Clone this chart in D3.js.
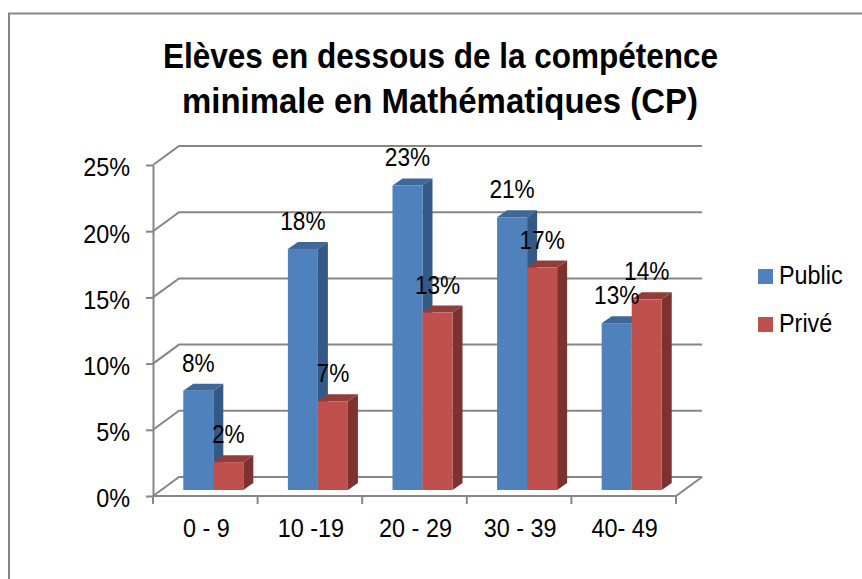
<!DOCTYPE html>
<html>
<head>
<meta charset="utf-8">
<style>
  html, body { margin: 0; padding: 0; background: #fff; }
  svg { display: block; }
  text { font-family: "Liberation Sans", Arial, sans-serif; fill: #000; }
</style>
<script src="https://cdn.jsdelivr.net/npm/d3@7"></script>
</head>
<body>
<script>
const width = 862,
      height = 579;

const titleLines = ["Elèves en dessous de la compétence", "minimale en Mathématiques (CP)"];
const categories = ["0 - 9", "10 -19", "20 - 29", "30 - 39", "40- 49"];
const seriesNames = ["Public", "Privé"];
const publicValues = [0.075, 0.182, 0.23, 0.206, 0.126];
const priveValues = [0.021, 0.067, 0.134, 0.168, 0.144];
const yTicks = [0, 0.05, 0.1, 0.15, 0.2, 0.25];

const colors = {
  Public: { front: "#4f81bd", top: "#3f6797", side: "#335a86" },
  "Privé": { front: "#c0504d", top: "#933d3b", side: "#7d3230" }
};

// chart box, the back wall sits up and to the right of the front edge
const plotLeft = 153, plotRight = 676, plotBottom = 496, plotTop = 165;
const wallX = 26, wallY = 19;
const barX = 10, barY = 7;   // depth of one bar
const floorGap = 6;          // bars stand a bit behind the front edge
const labelSize = "26px";

const y = d3.scaleLinear().domain([0, 0.25]).range([plotBottom, plotTop]);
const x0 = d3.scaleBand().domain(categories).range([plotLeft + 8, plotRight + 8])
      .paddingInner(0.426).paddingOuter(0.213);
const x1 = d3.scaleBand().domain(seriesNames).range([0, x0.bandwidth()]);
const pct = d3.format(".0%");

const svg = d3.select("body").append("svg")
  .attr("width", width)
  .attr("height", height);

/* ------------- BORDER ------------ */
svg.append("path")
  .attr("d", "M9,579V13.5H862")
  .attr("fill", "none")
  .attr("stroke", "#868686")
  .attr("stroke-width", 2);

/* ------------- TITLE ------------ */
const titleX = [[163, 555], [182, 516]];
svg.selectAll("text.title")
  .data(titleLines)
  .enter().append("text")
  .attr("class", "title")
  .attr("x", (d, i) => titleX[i][0])
  .attr("y", (d, i) => 68 + i * 45)
  .attr("textLength", (d, i) => titleX[i][1])
  .attr("lengthAdjust", "spacingAndGlyphs")
  .style("font-size", "35px")
  .style("font-weight", "bold")
  .text(d => d);

/* ------------- WALLS ------------ */
const grid = svg.append("g")
  .attr("fill", "none")
  .attr("stroke", "#868686")
  .attr("stroke-width", 2);

grid.selectAll("path.wall")
  .data(yTicks)
  .enter().append("path")
  .attr("class", "wall")
  .attr("d", d => {
    const p = d3.path();
    p.moveTo(plotLeft, y(d));
    p.lineTo(plotLeft + wallX, y(d) - wallY);
    p.lineTo(plotRight + wallX, y(d) - wallY);
    return p.toString();
  });

// floor front edge and its right side
grid.append("path")
  .attr("d", () => {
    const p = d3.path();
    p.moveTo(plotLeft, plotBottom);
    p.lineTo(plotRight, plotBottom);
    p.lineTo(plotRight + wallX, plotBottom - wallY);
    return p.toString();
  });

/* ------------- AXES ------------ */
const yAxis = svg.append("g")
  .attr("transform", "translate(" + plotLeft + ",0)")
  .call(d3.axisLeft(y).tickValues(yTicks).tickFormat(pct).tickSize(7).tickSizeOuter(0));

yAxis.select(".domain").attr("stroke", "#868686").attr("stroke-width", 2);
yAxis.selectAll("line").attr("stroke", "#868686").attr("stroke-width", 2);
yAxis.selectAll("text")
  .attr("x", -23 / 0.9)
  .attr("dy", "0.42em")
  .attr("transform", "scale(0.9,1)")
  .style("font-size", labelSize);

// x ticks fall on the band boundaries
const xEdges = [plotLeft].concat(categories.map(c => x0(c) + x0.bandwidth() + x0.step() * 0.213 - 8));
svg.append("g").selectAll("line")
  .data(xEdges)
  .enter().append("line")
  .attr("x1", d => d).attr("x2", d => d)
  .attr("y1", plotBottom).attr("y2", plotBottom + 8)
  .attr("stroke", "#868686")
  .attr("stroke-width", 2);

svg.append("g").selectAll("text")
  .data(categories)
  .enter().append("text")
  .attr("transform", d => "translate(" + (x0(d) + x0.bandwidth() / 2 - 7) + ",537) scale(0.9,1)")
  .attr("text-anchor", "middle")
  .style("font-size", labelSize)
  .text(d => d);

/* ------------- BARS ------------ */
const rows = [];
seriesNames.forEach((s, si) => {
  const values = si === 0 ? publicValues : priveValues;
  categories.forEach((c, i) => rows.push({ series: s, category: c, value: values[i] }));
});

const bar = svg.append("g").selectAll("g")
  .data(rows)
  .enter().append("g");

const bx = d => x0(d.category) + x1(d.series);
const by = d => y(d.value) - floorGap;
const by0 = y(0) - floorGap;
const bw = x1.bandwidth();

bar.append("path")
  .attr("fill", d => colors[d.series].side)
  .attr("d", d => {
    const p = d3.path();
    p.moveTo(bx(d) + bw, by(d));
    p.lineTo(bx(d) + bw + barX, by(d) - barY);
    p.lineTo(bx(d) + bw + barX, by0 - barY);
    p.lineTo(bx(d) + bw, by0);
    p.closePath();
    return p.toString();
  });

bar.append("path")
  .attr("fill", d => colors[d.series].top)
  .attr("d", d => {
    const p = d3.path();
    p.moveTo(bx(d), by(d));
    p.lineTo(bx(d) + barX, by(d) - barY);
    p.lineTo(bx(d) + bw + barX, by(d) - barY);
    p.lineTo(bx(d) + bw, by(d));
    p.closePath();
    return p.toString();
  });

bar.append("rect")
  .attr("x", bx)
  .attr("y", by)
  .attr("width", bw)
  .attr("height", d => by0 - by(d))
  .attr("fill", d => colors[d.series].front);

/* ------------- LABELS ------------ */
svg.append("g").selectAll("text")
  .data(rows)
  .enter().append("text")
  .attr("transform", d => "translate(" + (bx(d) + bw / 2) + "," + (by(d) - 19) + ") scale(0.87,1)")
  .attr("text-anchor", "middle")
  .style("font-size", labelSize)
  .text(d => pct(d.value));

/* ------------- LEGEND ------------ */
const legend = svg.append("g").selectAll("g")
  .data(seriesNames)
  .enter().append("g")
  .attr("transform", (d, i) => "translate(758," + (269 + i * 48) + ")");

legend.append("rect")
  .attr("width", 15)
  .attr("height", 15)
  .attr("fill", d => colors[d].front);

legend.append("text")
  .attr("transform", "translate(21,15) scale(0.9,1)")
  .style("font-size", labelSize)
  .text(d => d);
</script>
</body>
</html>
